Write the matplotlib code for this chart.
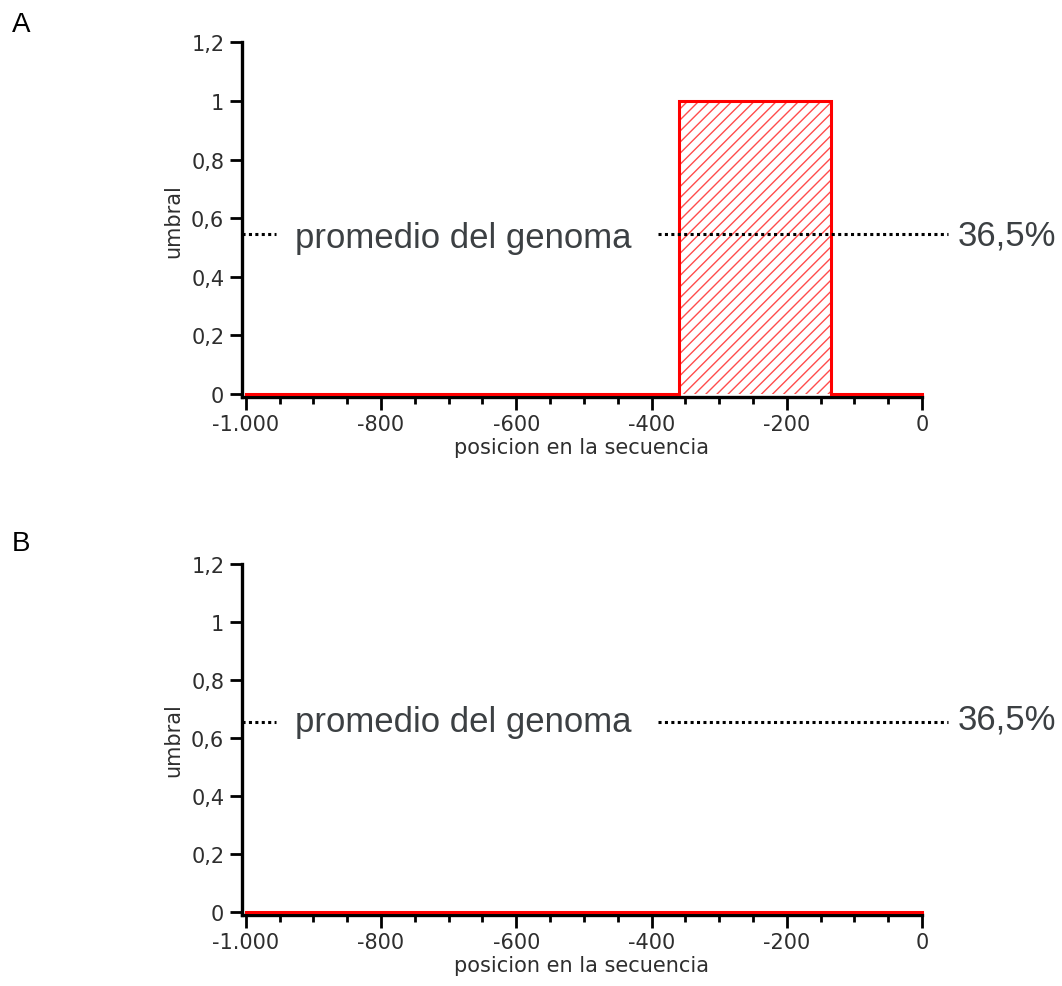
import matplotlib.pyplot as plt
import matplotlib.transforms as mtransforms
import numpy as np

# datos del panel A y B
pos_A = [-1000, -360, -360, -135, -135, 0]
umbral_A = [0, 0, 1, 1, 0, 0]
pos_B = [-1000, 0]
umbral_B = [0, 0]
promedio = [0.546, 0.655]
promedio_txt = '36,5%'

yticks = [0, 0.2, 0.4, 0.6, 0.8, 1.0, 1.2]
ytick_labels = ['0', '0,2', '0,4', '0,6', '0,8', '1', '1,2']
xticks = [-1000, -800, -600, -400, -200, 0]
xtick_labels = ['-1.000', '-800', '-600', '-400', '-200', '0']

txt_color = '#2e2e2e'
ann_color = '#3c4043'
plt.rcParams['hatch.linewidth'] = 1.0

fig = plt.figure(figsize=(10.62, 9.87), dpi=100)
axA = fig.add_axes([0.2276, 0.5968, 0.6406, 0.3593])
axB = fig.add_axes([0.2276, 0.0719, 0.6406, 0.3556])

# (eje, posiciones, valores, promedio, desplazamiento de la línea base del texto en px)
paneles = [(axA, pos_A, umbral_A, promedio[0], 13, 10),
           (axB, pos_B, umbral_B, promedio[1], 9, 6)]

for ax, pos, umb, prom, off1, off2 in paneles:
    ax.fill_between(pos, umb, 0, facecolor='none', edgecolor=(1, 0, 0, 0.7),
                    hatch='///', lw=0)
    ax.plot(pos, umb, color='red', lw=2.2, solid_joinstyle='miter', zorder=3, clip_on=False)

    ax.set_xlim(-1006, 0)
    ax.set_ylim(-0.01, 1.2)
    ax.spines['top'].set_visible(False)
    ax.spines['right'].set_visible(False)
    for s in ['left', 'bottom']:
        ax.spines[s].set_linewidth(2.4)
    ax.set_yticks(yticks)
    ax.set_yticklabels(ytick_labels)
    ax.set_xticks(xticks)
    ax.set_xticklabels(xtick_labels)
    ax.set_xticks(np.arange(-1000, 1, 50), minor=True)
    ax.tick_params(axis='both', which='major', length=9, width=2, colors='black',
                   labelcolor=txt_color, labelsize=15)
    ax.tick_params(axis='x', which='minor', length=5, width=2)
    ax.set_ylabel('umbral', fontsize=15, color=txt_color, labelpad=6)
    ax.set_xlabel('posicion en la secuencia', fontsize=15, color=txt_color, labelpad=2)

    # línea del promedio del genoma
    tr = ax.get_yaxis_transform()
    ls = (0, (1, 1.1))
    ax.plot([0.0, 0.0504], [prom, prom], transform=tr, color='black', lw=2.2,
            linestyle=ls, clip_on=False, zorder=4)
    ax.plot([0.6124, 1.038], [prom, prom], transform=tr, color='black', lw=2.2,
            linestyle=ls, clip_on=False, zorder=4)
    tr1 = mtransforms.offset_copy(tr, fig=fig, y=-off1, units='dots')
    tr2 = mtransforms.offset_copy(tr, fig=fig, y=-off2, units='dots')
    ax.text(0.0783, prom, 'promedio del genoma', transform=tr1, fontsize=25,
            family='Liberation Sans', color=ann_color, ha='left', va='baseline')
    ax.text(1.0529, prom, promedio_txt, transform=tr2, fontsize=25,
            family='Liberation Sans', color=ann_color, ha='left', va='baseline')

fig.text(0.011, 0.9742, 'A', fontsize=20, family='Liberation Sans', va='center')
fig.text(0.011, 0.4493, 'B', fontsize=20, family='Liberation Sans', va='center')

fig.savefig('out.png', dpi=100)
